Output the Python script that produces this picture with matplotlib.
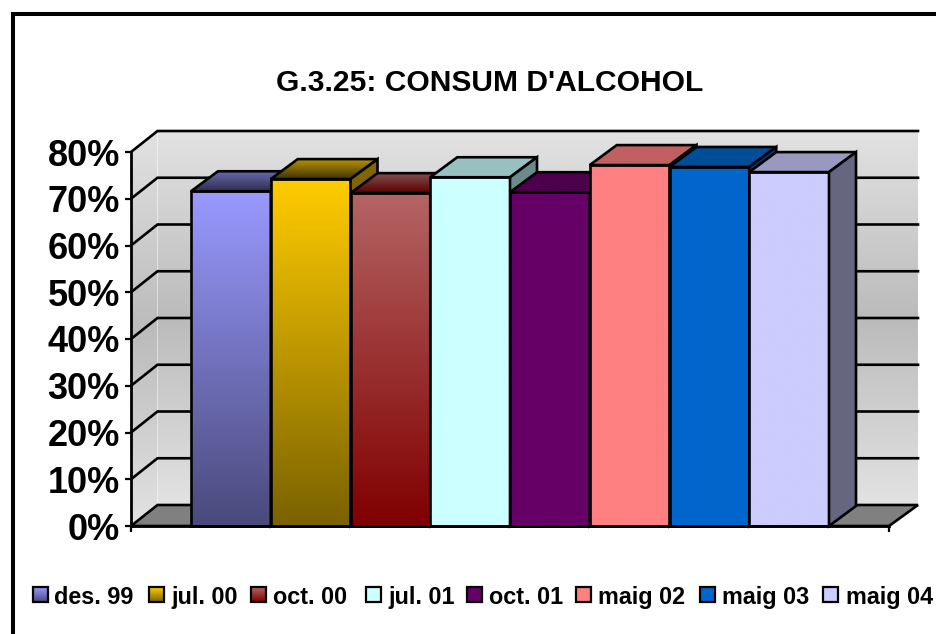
import numpy as np
import matplotlib
matplotlib.use('Agg')
import matplotlib.pyplot as plt
from matplotlib.colors import to_rgb
from matplotlib.patches import Polygon, Rectangle

plt.rcParams['font.family'] = ['Liberation Sans', 'DejaVu Sans']
plt.rcParams['font.weight'] = 'bold'

labels = ['des. 99', 'jul. 00', 'oct. 00', 'jul. 01', 'oct. 01', 'maig 02', 'maig 03', 'maig 04']
values = [71.6, 74.2, 71.2, 74.6, 71.4, 77.2, 76.8, 75.7]
yticks = [0, 10, 20, 30, 40, 50, 60, 70, 80]

# colors: front top, front bottom, top face back, top face front, side
front_hi = ['#9999ff', '#ffcc00', '#b56464', '#ccffff', '#660066', '#ff8080', '#0066cc', '#ccccff']
front_lo = ['#4a4a7c', '#7a6200', '#800000', '#ccffff', '#660066', '#ff8080', '#0066cc', '#ccccff']
top_back = ['#6a6ab0', '#b89400', '#854f4f', '#99c0c0', '#4d004d', '#c06060', '#004d99', '#9999c0']
top_front = ['#2e2e50', '#403300', '#5a0000', '#99c0c0', '#4d004d', '#c06060', '#004d99', '#9999c0']
side_col = ['#33335a', '#806600', '#5a0000', '#6b8a8a', '#330033', '#804040', '#003d80', '#666680']

W, H = 936, 634
LW = 1.9
fig = plt.figure(figsize=(W / 100, H / 100), dpi=100, facecolor='white')

# panel for title, frame and legend, in pixels
bg = fig.add_axes([0, 0, 1, 1])
bg.set_xlim(0, W)
bg.set_ylim(H, 0)
bg.axis('off')
bg.plot([13, 13, W], [H, 13.5, 13.5], color='black', lw=2.9, solid_joinstyle='miter')
bg.text(489.5, 83, "G.3.25: CONSUM D'ALCOHOL", ha='center', va='center', fontsize=21.6, fontweight='bold')

# main axes: one x unit is one bar
ax = fig.add_axes([131 / W, 1 - 526 / H, (889 - 131) / W, (526 - 152) / H])
ax.patch.set_visible(False)
px_x = 1 / 79.75
px_y = 80 / 374
xmin, xmax = -60 * px_x, 698 * px_x
ax.set_xlim(xmin, xmax)
ax.set_ylim(0, 80)
wall_dx, wall_dy = 26.5 * px_x, 21 * px_y
wall_r = xmax + 29 * px_x
bar_dx, bar_dy = 27 * px_x, 20 * px_y


def gradient(poly_xy, stops, x0, x1, y0, y1, z):
    # vertical gradient clipped to a polygon, stops listed from top to bottom
    n = 128
    pos = np.linspace(0, 1, len(stops))
    t = np.linspace(0, 1, n)
    rgb = np.array([to_rgb(c) for c in stops])
    arr = np.stack([np.interp(t, pos, rgb[:, k]) for k in range(3)], axis=1)[:, None, :]
    im = ax.imshow(arr, extent=(x0, x1, y0, y1), aspect='auto', origin='upper', zorder=z,
                   interpolation='bilinear')
    p = Polygon(poly_xy, closed=True, transform=ax.transData)
    im.set_clip_box(fig.bbox)
    im.set_clip_path(p)


wall_stops = ['#e2e2e2', '#bbbbbb', '#e2e2e2']
# back wall
gradient([(xmin + wall_dx, wall_dy), (wall_r, wall_dy), (wall_r, 80 + wall_dy), (xmin + wall_dx, 80 + wall_dy)],
         wall_stops, xmin + wall_dx, wall_r, wall_dy, 80 + wall_dy, 1)
# left wall
gradient([(xmin, 0), (xmin + wall_dx, wall_dy), (xmin + wall_dx, 80 + wall_dy), (xmin, 80)],
         wall_stops, xmin, xmin + wall_dx, 0, 80 + wall_dy, 1)
# floor
ax.add_patch(Polygon([(xmin, 0), (xmin + wall_dx, wall_dy), (wall_r, wall_dy), (xmax, 0)], closed=True,
                     facecolor='#808080', edgecolor='black', lw=LW, clip_on=False, zorder=2))
# gridlines on both walls
for v in yticks[1:]:
    ax.plot([xmin, xmin + wall_dx, wall_r], [v, v + wall_dy, v + wall_dy], color='black', lw=LW,
            clip_on=False, zorder=2, solid_joinstyle='miter')

for i, v in enumerate(values):
    z = 3 + i
    gradient([(i, 0), (i + 1, 0), (i + 1, v), (i, v)], [front_hi[i], front_lo[i]], i, i + 1, 0, v, z)
    ax.add_patch(Rectangle((i, 0), 1, v, facecolor='none', edgecolor='black', lw=LW, clip_on=False, zorder=z))
    top = [(i, v), (i + 1, v), (i + 1 + bar_dx, v + bar_dy), (i + bar_dx, v + bar_dy)]
    gradient(top, [top_back[i], top_front[i]], i, i + 1 + bar_dx, v, v + bar_dy, z)
    ax.add_patch(Polygon(top, closed=True, facecolor='none', edgecolor='black', lw=LW, clip_on=False, zorder=z))
    side = [(i + 1, 0), (i + 1 + bar_dx, bar_dy), (i + 1 + bar_dx, v + bar_dy), (i + 1, v)]
    ax.add_patch(Polygon(side, closed=True, facecolor=side_col[i], edgecolor='black', lw=LW, clip_on=False, zorder=z))

ax.set_xlim(xmin, xmax)
ax.set_ylim(0, 80)
for s in ['top', 'right']:
    ax.spines[s].set_visible(False)
for s in ['left', 'bottom']:
    ax.spines[s].set_linewidth(2)
    ax.spines[s].set_zorder(20)
ax.set_yticks(yticks)
ax.set_yticklabels([f'{v}%' for v in yticks], fontsize=26, fontweight='bold')
ax.set_xticks([xmin, xmax])
ax.set_xticklabels([])
ax.tick_params(axis='both', length=4.5, width=1.6, pad=3.5)

# legend
swatch_x = [33, 149, 251, 366, 467, 576, 700, 823]
text_x = [54, 171, 273, 388, 489, 598, 722, 846]
for i, lab in enumerate(labels):
    stops = [front_hi[i], front_lo[i]]
    arr = np.linspace(to_rgb(stops[0]), to_rgb(stops[1]), 32)[:, None, :]
    x = swatch_x[i]
    bg.imshow(arr, extent=(x, x + 15, 602, 587), aspect='auto', origin='upper', zorder=3)
    bg.add_patch(Rectangle((x, 587), 15, 15, facecolor='none', edgecolor='black', lw=1.6, zorder=4))
    bg.text(text_x[i], 604, lab, ha='left', va='baseline', fontsize=16.8, fontweight='bold')
bg.set_xlim(0, W)
bg.set_ylim(H, 0)

fig.savefig('out.png', dpi=100)
